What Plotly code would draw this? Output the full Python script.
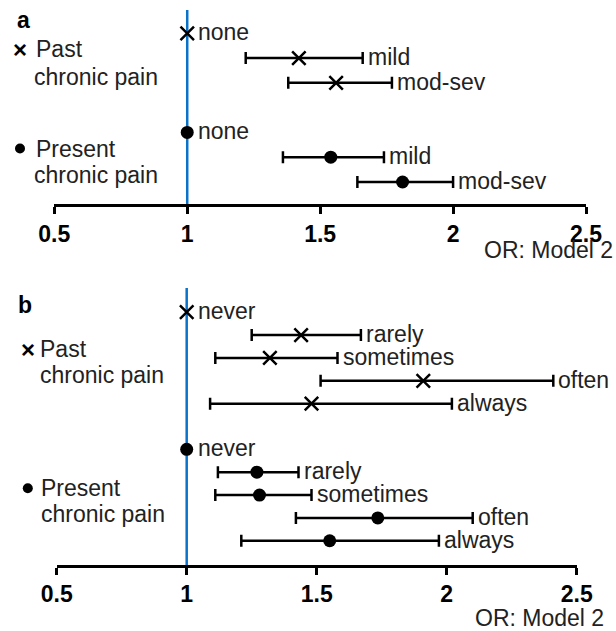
import plotly.graph_objects as go

W, H = 616, 631
FONT = "Liberation Sans, Arial, sans-serif"
FS = 23

REF_OR = 1.0
tick_vals = [0.5, 1.0, 1.5, 2.0, 2.5]
tick_text = ["0.5", "1", "1.5", "2", "2.5"]
axis_title = "OR: Model 2"
group_labels = ["Past<br>chronic pain", "Present<br>chronic pain"]

# Panel a: severity
a_levels = ["none", "mild", "mod-sev"]
a_past_or = [1.00, 1.42, 1.56]
a_past_lo = [None, 1.22, 1.38]
a_past_hi = [None, 1.66, 1.77]
a_pres_or = [1.00, 1.54, 1.81]
a_pres_lo = [None, 1.36, 1.64]
a_pres_hi = [None, 1.74, 2.00]

# Panel b: frequency
b_levels = ["never", "rarely", "sometimes", "often", "always"]
b_past_or = [1.00, 1.44, 1.32, 1.91, 1.48]
b_past_lo = [None, 1.25, 1.11, 1.515, 1.09]
b_past_hi = [None, 1.67, 1.58, 2.41, 2.02]
b_pres_or = [1.00, 1.27, 1.28, 1.735, 1.55]
b_pres_lo = [None, 1.12, 1.11, 1.42, 1.21]
b_pres_hi = [None, 1.43, 1.48, 2.10, 1.97]


def px(x):
    return x / W


def py(y):
    return 1 - y / H


fig = go.Figure()
annotations = []
shapes = []

panels = [
    dict(xa="x", ya="y", levels=a_levels,
         data=[(a_past_or, a_past_lo, a_past_hi), (a_pres_or, a_pres_lo, a_pres_hi)]),
    dict(xa="x2", ya="y2", levels=b_levels,
         data=[(b_past_or, b_past_lo, b_past_hi), (b_pres_or, b_pres_lo, b_pres_hi)]),
]

for p in panels:
    n = len(p["levels"])
    for gi, (orv, lo, hi) in enumerate(p["data"]):
        rows = [gi * (n + 1) + k for k in range(n)]
        sym = "x-thin" if gi == 0 else "circle"
        marker = dict(symbol=sym, color="black",
                      size=13.5 if gi == 0 else 13,
                      line=dict(width=2.5 if gi == 0 else 0, color="black"))
        ci_idx = [i for i in range(n) if lo[i] is not None]
        ref_idx = [i for i in range(n) if lo[i] is None]
        fig.add_trace(go.Scatter(
            x=[orv[i] for i in ci_idx], y=[rows[i] for i in ci_idx],
            mode="markers", marker=marker, xaxis=p["xa"], yaxis=p["ya"],
            error_x=dict(type="data", symmetric=False,
                         array=[hi[i] - orv[i] for i in ci_idx],
                         arrayminus=[orv[i] - lo[i] for i in ci_idx],
                         color="black", thickness=2.5, width=6),
            showlegend=False, hoverinfo="skip"))
        fig.add_trace(go.Scatter(
            x=[orv[i] for i in ref_idx], y=[rows[i] for i in ref_idx],
            mode="markers", marker=marker, xaxis=p["xa"], yaxis=p["ya"],
            showlegend=False, hoverinfo="skip"))
        for i in range(n):
            has_ci = hi[i] is not None
            annotations.append(dict(
                x=hi[i] if has_ci else orv[i], y=rows[i],
                xref=p["xa"], yref=p["ya"], text=p["levels"][i],
                showarrow=False, xanchor="left", yanchor="middle",
                xshift=3 if has_ci else 9, yshift=1,
                font=dict(family=FONT, size=FS, color="#222")))
    shapes.append(dict(type="line", xref=p["xa"], yref=p["ya"] + " domain",
                       x0=REF_OR, x1=REF_OR, y0=0, y1=1,
                       line=dict(color="#0a72c8", width=2.5), layer="below"))

txt_font = dict(family=FONT, size=FS, color="#222")
for t, x, y in [("<b>a</b>", 15, 20), ("<b>b</b>", 16, 305)]:
    annotations.append(dict(x=px(x), y=py(y), xref="paper", yref="paper", text=t,
                            showarrow=False, xanchor="left", yanchor="middle",
                            font=dict(family=FONT, size=FS, color="black")))

legend_pos = [  # (glyph x, glyph y, text x, line1 y, line2 y, line2 x)
    [(20, 50, 33.5, 49.5, 77, 31.5), (20, 148.5, 33.5, 148.7, 174.7, 31.5)],
    [(27.5, 349, 37.8, 348.7, 375.3, 37.8), (27.8, 488.3, 38.5, 488, 514.3, 38.5)],
]
for pl in legend_pos:
    for gi, (gx, gy, tx, y1, y2, tx2) in enumerate(pl):
        l1, l2 = group_labels[gi].split("<br>")
        annotations.append(dict(x=px(tx), y=py(y1), xref="paper", yref="paper", text=l1,
                                showarrow=False, xanchor="left", yanchor="middle", font=txt_font))
        annotations.append(dict(x=px(tx2), y=py(y2), xref="paper", yref="paper", text=l2,
                                showarrow=False, xanchor="left", yanchor="middle", font=txt_font))
        if gi == 0:
            annotations.append(dict(x=px(gx), y=py(gy), xref="paper", yref="paper",
                                    text="<b>×</b>", showarrow=False, xanchor="center",
                                    yanchor="middle",
                                    font=dict(family=FONT, size=24, color="black")))
        else:
            shapes.append(dict(type="circle", xref="paper", yref="paper",
                               xsizemode="pixel", ysizemode="pixel",
                               xanchor=px(gx), yanchor=py(gy),
                               x0=-5, x1=5, y0=-5, y1=5,
                               fillcolor="black", line=dict(width=0)))

for x, y in [(614, 250), (605, 617.8)]:
    annotations.append(dict(x=px(x), y=py(y), xref="paper", yref="paper", text=axis_title,
                            showarrow=False, xanchor="right", yanchor="middle",
                            borderpad=0, font=txt_font))

xaxis_common = dict(range=[0.5, 2.5], tickvals=tick_vals, ticktext=tick_text,
                    showline=True, linecolor="black", linewidth=2.5,
                    ticks="outside", ticklen=7, tickwidth=2.5, tickcolor="black",
                    tickfont=dict(family=FONT, size=FS, color="black", weight="bold"),
                    showgrid=False, zeroline=False, ticklabelstandoff=0, automargin=False)
yaxis_common = dict(visible=False, showgrid=False, zeroline=False, automargin=False)

fig.update_layout(
    width=W, height=H, autosize=False, margin=dict(l=0, r=0, t=0, b=0, pad=0),
    paper_bgcolor="white", plot_bgcolor="white", showlegend=False,
    xaxis=dict(domain=[px(54.3), px(586)], anchor="y", **xaxis_common),
    yaxis=dict(domain=[py(204.3), py(10)], range=[6.90, -0.94], anchor="x", **yaxis_common),
    xaxis2=dict(domain=[px(56.7), px(576.7)], anchor="y2", **xaxis_common),
    yaxis2=dict(domain=[py(565), py(288)], range=[11.06, -1.06], anchor="x2", **yaxis_common),
    annotations=annotations, shapes=shapes,
)

fig.write_html("out.html", config={"displayModeBar": False},
               post_script="document.body.style.margin='0';document.body.style.overflow='hidden';")
